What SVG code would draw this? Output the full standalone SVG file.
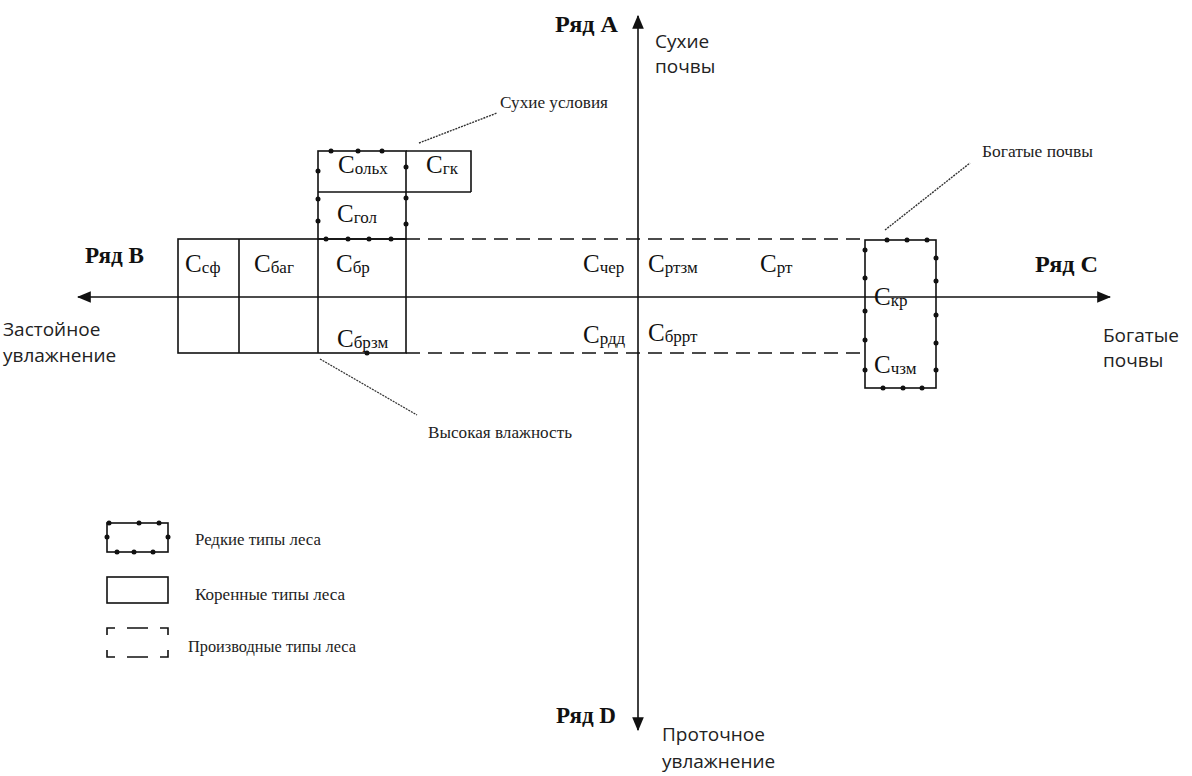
<svg xmlns="http://www.w3.org/2000/svg" width="1192" height="776" viewBox="0 0 1192 776">
<style>
.ln{stroke:#111;stroke-width:1.6;fill:none}
.dash{stroke:#111;stroke-width:1.6;fill:none;stroke-dasharray:14 8}
.lead{stroke:#333;stroke-width:1.4;stroke-dasharray:2 1;fill:none}
.dot{fill:#111}
.c{font-family:"Liberation Serif",serif;font-size:25px;fill:#111}
.sub{font-size:17px}
.ser{font-family:"Liberation Serif",serif;font-size:16px;fill:#222}
.row{font-family:"Liberation Serif",serif;font-size:23px;font-weight:bold;fill:#111}
.sans{font-family:"Open Sans","Liberation Sans",sans-serif;font-size:19px;fill:#222}
</style>
<defs>
<marker id="ah" viewBox="0 0 12 10" refX="11" refY="5" markerWidth="14" markerHeight="12" markerUnits="userSpaceOnUse" orient="auto-start-reverse">
<path d="M0,0 L12,5 L0,10 z" fill="#111"/>
</marker>
</defs>
<rect width="1192" height="776" fill="#fff"/>

<g id="connectors">
<line class="ln" x1="638" y1="16" x2="638" y2="730" marker-start="url(#ah)" marker-end="url(#ah)"/>
<line class="ln" x1="78" y1="297" x2="1110" y2="297" marker-start="url(#ah)" marker-end="url(#ah)"/>
<line class="dash" x1="406" y1="239" x2="865" y2="239"/>
<line class="dash" x1="406" y1="353" x2="865" y2="353"/>
<line class="lead" x1="419" y1="143" x2="497" y2="113"/>
<line class="lead" x1="885" y1="230" x2="970" y2="163"/>
<line class="lead" x1="320" y1="359" x2="417" y2="415"/>
</g>

<g id="axis-labels">
<text class="row" x="555" y="32" textLength="63" lengthAdjust="spacingAndGlyphs">Ряд A</text>
<text class="sans" x="655" y="48">Сухие</text>
<text class="sans" x="655" y="73">почвы</text>
<text class="row" x="556" y="723" textLength="60" lengthAdjust="spacingAndGlyphs">Ряд D</text>
<text class="sans" x="662" y="741">Проточное</text>
<text class="sans" x="662" y="768">увлажнение</text>
<text class="row" x="85" y="263" textLength="59" lengthAdjust="spacingAndGlyphs">Ряд B</text>
<text class="sans" x="3" y="336">Застойное</text>
<text class="sans" x="3" y="362">увлажнение</text>
<text class="row" x="1035" y="272" textLength="63" lengthAdjust="spacingAndGlyphs">Ряд C</text>
<text class="sans" x="1103" y="342">Богатые</text>
<text class="sans" x="1103" y="367">почвы</text>
</g>

<g id="main-block">
<rect class="ln" x="178" y="239" width="228" height="114"/>
<line class="ln" x1="239" y1="239" x2="239" y2="353"/>
<line class="ln" x1="318" y1="239" x2="318" y2="353"/>
<circle class="dot" cx="367" cy="353" r="2.5"/>
<text class="c" x="185" y="272">C<tspan class="sub" dy="1">сф</tspan></text>
<text class="c" x="254" y="272">C<tspan class="sub" dy="1">баг</tspan></text>
<text class="c" x="336" y="272">C<tspan class="sub" dy="1">бр</tspan></text>
<text class="c" x="337" y="347">C<tspan class="sub" dy="1">брзм</tspan></text>
</g>

<g id="upper-block">
<rect class="ln" x="318" y="151" width="88" height="88"/>
<line class="ln" x1="318" y1="192" x2="471" y2="192"/>
<polyline class="ln" points="406,151 471,151 471,192"/>
<g class="dot">
<circle cx="331" cy="151" r="2.5"/><circle cx="358" cy="151" r="2.5"/><circle cx="382" cy="151" r="2.5"/>
<circle cx="318" cy="171" r="2.5"/><circle cx="406" cy="167" r="2.5"/>
<circle cx="318" cy="199" r="2.5"/><circle cx="318" cy="221" r="2.5"/>
<circle cx="406" cy="198" r="2.5"/><circle cx="406" cy="224" r="2.5"/>
<circle cx="326" cy="239" r="2.5"/><circle cx="348" cy="239" r="2.5"/><circle cx="369" cy="239" r="2.5"/><circle cx="391" cy="239" r="2.5"/>
</g>
<text class="c" x="338" y="173">C<tspan class="sub" dy="1">ольх</tspan></text>
<text class="c" x="426" y="173">C<tspan class="sub" dy="1">гк</tspan></text>
<text class="c" x="337" y="222">C<tspan class="sub" dy="1">гол</tspan></text>
</g>

<g id="center-labels">
<text class="c" x="583" y="272">C<tspan class="sub" dy="1">чер</tspan></text>
<text class="c" x="648" y="272">C<tspan class="sub" dy="1">ртзм</tspan></text>
<text class="c" x="760" y="272">C<tspan class="sub" dy="1">рт</tspan></text>
<text class="c" x="583" y="343">C<tspan class="sub" dy="1">рдд</tspan></text>
<text class="c" x="648" y="341">C<tspan class="sub" dy="1">бррт</tspan></text>
</g>

<g id="right-block">
<rect class="ln" x="865" y="240" width="71" height="148"/>
<g class="dot">
<circle cx="887" cy="240" r="2.5"/><circle cx="907" cy="240" r="2.5"/><circle cx="927" cy="240" r="2.5"/>
<circle cx="865" cy="250" r="2.5"/><circle cx="865" cy="278" r="2.5"/><circle cx="865" cy="311" r="2.5"/><circle cx="865" cy="340" r="2.5"/><circle cx="865" cy="370" r="2.5"/>
<circle cx="936" cy="258" r="2.5"/><circle cx="936" cy="281" r="2.5"/><circle cx="936" cy="315" r="2.5"/><circle cx="936" cy="343" r="2.5"/><circle cx="936" cy="370" r="2.5"/>
<circle cx="883" cy="388" r="2.5"/><circle cx="903" cy="388" r="2.5"/><circle cx="922" cy="388" r="2.5"/>
</g>
<text class="c" x="874" y="305">C<tspan class="sub" dy="1">кр</tspan></text>
<text class="c" x="874" y="373">C<tspan class="sub" dy="1">чзм</tspan></text>
</g>

<g id="annotations">
<text class="ser" x="500" y="108" textLength="108" lengthAdjust="spacingAndGlyphs">Сухие условия</text>
<text class="ser" x="982" y="157" textLength="111" lengthAdjust="spacingAndGlyphs">Богатые почвы</text>
<text class="ser" x="428" y="438" textLength="144" lengthAdjust="spacingAndGlyphs">Высокая влажность</text>
</g>

<g id="legend">
<rect class="ln" x="107" y="523" width="61" height="29"/>
<g class="dot">
<circle cx="109" cy="523" r="2.5"/><circle cx="139" cy="523" r="2.5"/><circle cx="159" cy="523" r="2.5"/>
<circle cx="107" cy="537" r="2.5"/><circle cx="168" cy="537" r="2.5"/>
<circle cx="117" cy="552" r="2.5"/><circle cx="134" cy="552" r="2.5"/><circle cx="153" cy="552" r="2.5"/>
</g>
<text class="ser" x="195" y="545" textLength="126" lengthAdjust="spacingAndGlyphs">Редкие типы леса</text>
<rect class="ln" x="107" y="577" width="61" height="26"/>
<text class="ser" x="195" y="600" textLength="150" lengthAdjust="spacingAndGlyphs">Коренные типы леса</text>
<path class="ln" d="M107,635 V628 H115 M127,628 H148 M160,628 H168 V635 M107,650 V657 H115 M127,657 H148 M160,657 H168 V650"/>
<text class="ser" x="188" y="652" textLength="168" lengthAdjust="spacingAndGlyphs">Производные типы леса</text>
</g>
</svg>
